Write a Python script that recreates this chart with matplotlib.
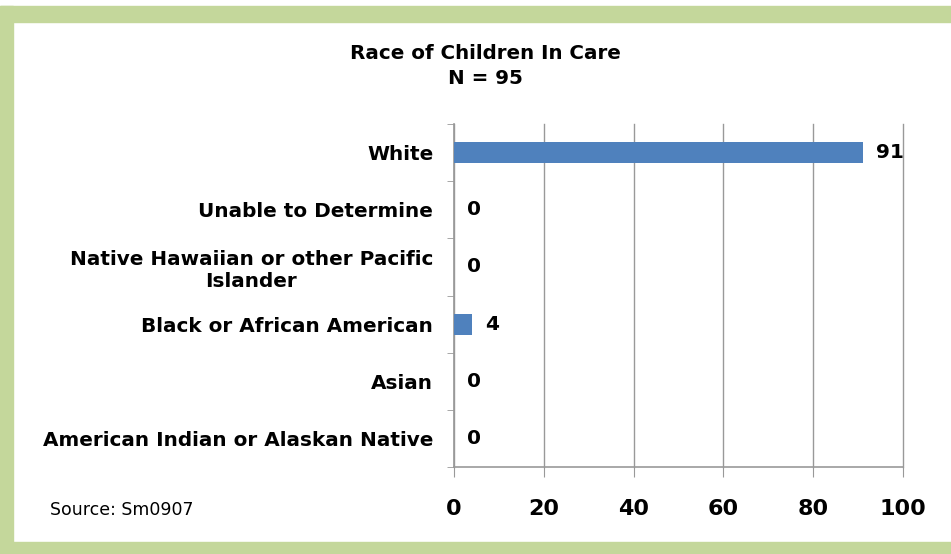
import matplotlib
matplotlib.use("Agg")
import matplotlib.pyplot as plt
from matplotlib.patches import Rectangle
import numpy as np

categories = ["American Indian or Alaskan Native", "Asian", "Black or African American",
              "Native Hawaiian or other Pacific\nIslander", "Unable to Determine", "White"]
values = [0, 0, 4, 0, 0, 91]
xticks = [0, 20, 40, 60, 80, 100]
title = "Race of Children In Care\nN = 95"
source = "Source: Sm0907"

plt.rcParams['font.family'] = ['DejaVu Sans']
W, H = 951, 554
fig = plt.figure(figsize=(W/100, H/100), dpi=100)
fig.patch.set_facecolor("white")

green = "#C4D79B"
# frame bands
fig.patches.append(Rectangle((0, 1 - 22/H), 1, 16/H, transform=fig.transFigure, color=green, zorder=0))
fig.patches.append(Rectangle((0, 0), 13/W, 1 - 6/H, transform=fig.transFigure, color=green, zorder=0))
fig.patches.append(Rectangle((0, 0), 1, 12/H, transform=fig.transFigure, color=green, zorder=0))

ax = fig.add_axes([454/W, (H-467)/H, (903-454)/W, (467-124)/H])
y = np.arange(len(categories))
ax.barh(y, values, height=0.37, color="#4F81BD", zorder=3)
ax.set_xlim(0, 100)
ax.set_ylim(-0.5, len(categories) - 0.5)
ax.set_xticks(xticks)
ax.set_xticklabels([str(t) for t in xticks], fontsize=16, fontweight='bold')
ax.set_yticks(y)
ax.set_yticklabels(categories, fontsize=14.4, fontweight='bold', multialignment='center')
ax.tick_params(axis='y', length=0, pad=15)
ax.set_yticks(np.arange(-0.5, len(categories)), minor=True)
ax.tick_params(axis='y', which='minor', length=5, color='#999999', direction='out')
ax.tick_params(axis='x', length=7, color='#999999', pad=16, direction='out')
ax.grid(axis='x', color='#999999', linewidth=1, zorder=0)
for gl in ax.get_xgridlines():
    gl.set_clip_on(False)
for s in ['top', 'right']:
    ax.spines[s].set_visible(False)
for s in ['left', 'bottom']:
    ax.spines[s].set_color('#999999')
    ax.spines[s].set_linewidth(1.2)

for yi, v in zip(y, values):
    ax.annotate(str(v), (v, yi), xytext=(13, 0), textcoords='offset pixels',
                ha='left', va='center', fontsize=14.5, fontweight='bold')

fig.text(485/W, 1 - 66/H, title, ha='center', va='center', fontsize=14.3, fontweight='bold', linespacing=1.4)
fig.text(50/W, 1 - 510/H, source, ha='left', va='center', fontsize=12.5)

fig.savefig("out.png", dpi=100, facecolor="white")
